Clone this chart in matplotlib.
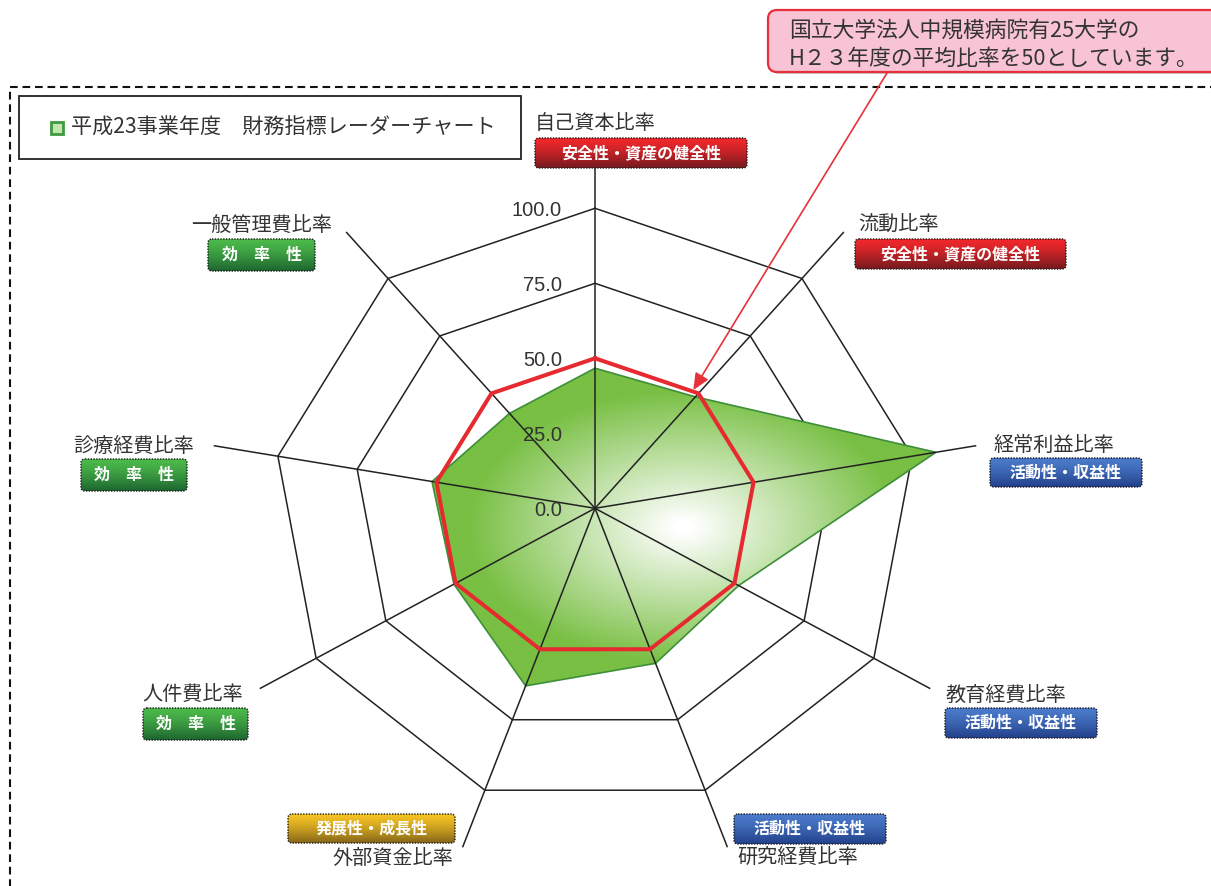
import numpy as np
import matplotlib
matplotlib.use("Agg")
import matplotlib.pyplot as plt
from matplotlib.patches import FancyBboxPatch, Polygon, Rectangle
from matplotlib.colors import to_rgb

# --- data -------------------------------------------------------------
labels = ["自己資本比率", "流動比率", "経常利益比率", "教育経費比率", "研究経費比率",
          "外部資金比率", "人件費比率", "診療経費比率", "一般管理費比率"]
categories = ["安全性・資産の健全性", "安全性・資産の健全性", "活動性・収益性",
              "活動性・収益性", "活動性・収益性", "発展性・成長性",
              "効　率　性", "効　率　性", "効　率　性"]
values_h23 = [46.7, 48.5, 107.5, 51.5, 55.0, 63.0, 50.6, 51.4, 41.3]
average = [50, 50, 50, 50, 50, 50, 50, 50, 50]
ring_levels = [25, 50, 75, 100]
tick_values = [0, 25, 50, 75, 100]
tick_labels = ["0.0", "25.0", "50.0", "75.0", "100.0"]
legend_title = "平成23事業年度　財務指標レーダーチャート"
note_lines = ["国立大学法人中規模病院有25大学の", "H２３年度の平均比率を50としています。"]

JP = ["Noto Sans CJK JP", "DejaVu Sans"]
TXT = "#333333"
BADGE = {"安全性・資産の健全性": ("#f1282c", "#741a1e"),
         "活動性・収益性": ("#4b7bcb", "#23408a"),
         "発展性・成長性": ("#f6c323", "#86661a"),
         "効　率　性": ("#4cba4a", "#1d6530")}

W, H = 1211, 886
CX, CY = 595, 508.3      # radar centre in px
SX, SY = 3.22, 3.0       # px per unit (picture is a bit wider than tall)

fig = plt.figure(figsize=(W / 100, H / 100), dpi=100)
ax = fig.add_axes([0, 0, 1, 1])
ax.axis("off")

n = len(labels)
theta = np.arange(n) * 2 * np.pi / n


def xy(r):
    r = np.asarray(r, float)
    return r * np.sin(theta), r * np.cos(theta)


def closed(a):
    return np.append(a, a[0])


for lv in ring_levels:
    rx, ry = xy([lv] * n)
    ax.plot(closed(rx), closed(ry), color="#222222", lw=1.1, zorder=1)

# green series with radial gradient
gx, gy = xy(values_h23)
poly = Polygon(np.column_stack([gx, gy]), closed=True, fc="none",
               ec="#3d8f3a", lw=1.2, zorder=2.5)
ax.add_patch(poly)
x0, x1, y0, y1 = gx.min(), gx.max(), gy.min(), gy.max()
mx, my = np.meshgrid(np.linspace(x0, x1, 500), np.linspace(y0, y1, 350))
d = np.sqrt(((mx - (x0 + x1) / 2) / ((x1 - x0) / 2)) ** 2
            + ((my - (y0 + y1) / 2) / ((y1 - y0) / 2)) ** 2)
t = np.clip((d - 0.04) / 0.82, 0, 1)[..., None]
img = (1 - t) * np.ones(3) + t * np.array(to_rgb("#78bf43"))
im = ax.imshow(img, extent=(x0, x1, y0, y1), origin="lower", aspect="auto",
               interpolation="bilinear", zorder=2)
im.set_clip_path(poly)

for th in theta:
    ax.plot([0, 120 * np.sin(th)], [0, 120 * np.cos(th)], color="#222222",
            lw=1.1, zorder=3)

ax_, ay_ = xy(average)
ax.plot(closed(ax_), closed(ay_), color="#e62a2f", lw=2.9, zorder=4,
        solid_joinstyle="miter")

for v, lab in zip(tick_values, tick_labels):
    ax.text(-10.3, v - 0.7, lab, ha="right", va="center", fontsize=14.5,
            family="Liberation Sans", color=TXT, zorder=5)

ax.set_xlim(-CX / SX, (W - CX) / SX)
ax.set_ylim(-(H - CY) / SY, CY / SY)

# --- overlay in pixel coordinates ------------------------------------
ov = fig.add_axes([0, 0, 1, 1])
ov.set_zorder(2)
ov.patch.set_visible(False)
ov.axis("off")


def badge(bx0, by0, bx1, by1, text):
    top, bot = BADGE[text]
    box = FancyBboxPatch((bx0, by0), bx1 - bx0, by1 - by0,
                         boxstyle="round,pad=0,rounding_size=4", fc="none",
                         ec="#1a1a1a", lw=1.0, ls=(0, (1, 1)), zorder=3)
    ov.add_patch(box)
    g = np.linspace(0, 1, 60)[:, None, None] ** 1.3
    gimg = (1 - g) * np.array(to_rgb(top)) + g * np.array(to_rgb(bot))
    gi = ov.imshow(gimg, extent=(bx0, bx1, by1, by0), aspect="auto",
                   interpolation="bilinear", zorder=2)
    gi.set_clip_path(box)
    ov.text((bx0 + bx1) / 2, (by0 + by1) / 2, text, ha="center", va="center",
            fontsize=11.5, fontweight="bold", color="white", family=JP, zorder=4)


# label anchor (x, y, ha) and badge box per axis
label_pos = [(595, 123, "center"), (858, 225, "left"), (993, 445, "left"),
             (946, 695, "left"), (737, 857, "left"), (453, 858, "right"),
             (142, 695, "left"), (73, 446, "left"), (332, 226, "right")]
badge_box = [(535, 138, 747, 168), (855, 239, 1066, 269), (990, 458, 1142, 487),
             (945, 708, 1097, 738), (734, 814, 886, 844), (288, 814, 455, 843),
             (143, 708, 248, 740), (81, 459, 187, 491), (208, 239, 315, 271)]

for lab, cat, (lx, ly, ha), bb in zip(labels, categories, label_pos, badge_box):
    ov.text(lx, ly, lab, ha=ha, va="center", fontsize=14.5, color=TXT, family=JP)
    badge(*bb, cat)

# dashed frame
ov.plot([10, 10, W + 5], [H + 5, 87, 87], color="#111111", lw=1.5,
        ls=(0, (3.7, 2.3)))

# legend box
ov.add_patch(Rectangle((19, 96), 502, 63, fc="white", ec="#222222", lw=1.3, zorder=3))
ov.add_patch(Rectangle((50.5, 121.5), 12, 12, fc="#c4e6ae", ec="#3f9b3f", lw=2, zorder=4))
ov.text(71, 128, legend_title, ha="left", va="center", fontsize=15.2, color=TXT,
        family=JP, zorder=5)

# callout
ov.add_patch(FancyBboxPatch((770, 12), 480, 62, boxstyle="round,pad=0,rounding_size=9",
                            fc="#c8c8c8", ec="none", zorder=2.8))
ov.add_patch(FancyBboxPatch((768, 10), 480, 62, boxstyle="round,pad=0,rounding_size=9",
                            fc="#f7c3d5", ec="#e8303a", lw=1.6, zorder=3))
for i, line in enumerate(note_lines):
    ov.text(789, 31 + i * 28, line, ha="left", va="center", fontsize=15.7,
            color=TXT, family=JP, zorder=4)
ov.annotate("", xy=(693.3, 390), xytext=(887, 73),
            arrowprops=dict(arrowstyle="-|>,head_length=1.0,head_width=0.45",
                            color="#e8303a", lw=1.2, shrinkA=0, shrinkB=0))

ov.set_xlim(0, W)
ov.set_ylim(H, 0)

fig.savefig("out.png", dpi=100, facecolor="white")
